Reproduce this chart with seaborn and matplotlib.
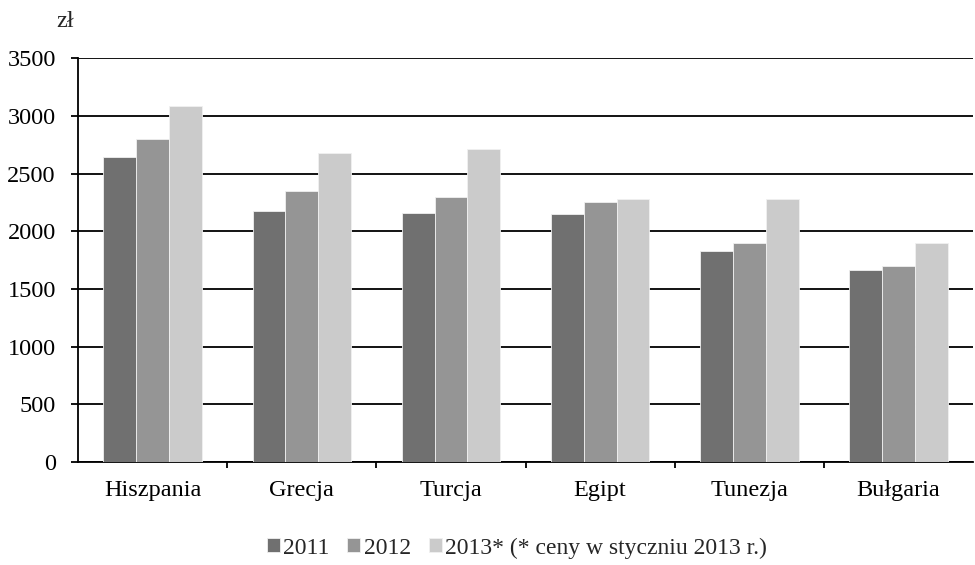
import matplotlib
matplotlib.use("Agg")
import matplotlib.pyplot as plt
import seaborn as sns
import pandas as pd
from matplotlib.ticker import FixedLocator

countries = ["Hiszpania", "Grecja", "Turcja", "Egipt", "Tunezja", "Bułgaria"]
years = ["2011", "2012", "2013* (* ceny w styczniu 2013 r.)"]
v2011 = [2640, 2180, 2160, 2150, 1830, 1665]
v2012 = [2800, 2350, 2300, 2250, 1900, 1700]
v2013 = [3090, 2680, 2710, 2280, 2280, 1895]
colors = ["#707070", "#959595", "#cbcbcb"]

rows = []
for year, vals in zip(years, [v2011, v2012, v2013]):
    for c, v in zip(countries, vals):
        rows.append({"kraj": c, "rok": year, "cena": v})
df = pd.DataFrame(rows)

FS = 17.5

sns.set_theme(style="white")
plt.rcParams["font.family"] = ["Liberation Serif", "DejaVu Serif"]
plt.rcParams["font.size"] = FS

fig = plt.figure(figsize=(9.75, 5.65), dpi=100)
ax = fig.add_axes([0.08, 0.182, 0.918, 0.715])

sns.barplot(data=df, x="kraj", y="cena", hue="rok", palette=colors,
            width=0.66, saturation=1, ax=ax, edgecolor="#f0f0f0", linewidth=0.6,
            zorder=3)

ax.set_ylim(0, 3500)
ax.set_yticks(range(0, 3501, 500))
ax.yaxis.grid(True, color="black", linewidth=1.3, zorder=0)
ax.set_axisbelow(True)
ax.set_xlim(-0.5, len(countries) - 0.5)
ax.set_xlabel("")
ax.set_ylabel("")

for s in ["top", "right"]:
    ax.spines[s].set_visible(False)
for s in ["left", "bottom"]:
    ax.spines[s].set_color("black")
    ax.spines[s].set_linewidth(1.3)

ax.tick_params(axis="y", which="major", left=True, length=5, width=1.3,
               color="black", labelsize=FS, pad=11, labelcolor="black")
ax.tick_params(axis="x", which="major", length=0, labelsize=FS, pad=13,
               labelcolor="black")
ax.xaxis.set_minor_locator(FixedLocator([i + 0.5 for i in range(len(countries) - 1)]))
ax.tick_params(axis="x", which="minor", bottom=True, length=4, width=1.3,
               color="black")

fig.text(0.067, 0.962, "zł", fontsize=FS, ha="center", va="center")

handles, labels = ax.get_legend_handles_labels()
ax.legend(handles, labels, loc="center", bbox_to_anchor=(0.53, 1 - 548 / 565),
          bbox_transform=fig.transFigure, ncol=3, frameon=False, fontsize=17,
          handlelength=0.55, handleheight=0.55, handletextpad=0.15,
          columnspacing=0.75, borderpad=0)

fig.savefig("out.png", dpi=100)
